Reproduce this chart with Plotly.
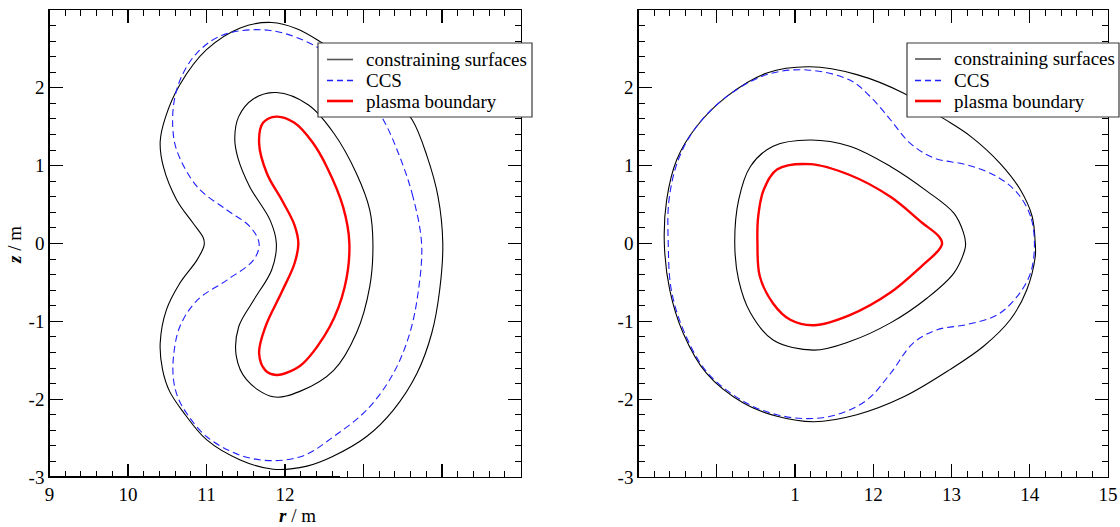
import plotly.graph_objects as go

# ---------------- data (r, z in metres) ----------------
# Left panel
L_outer_r = [14.01, 13.95, 13.81, 13.62, 13.35, 12.95, 12.47, 12.15, 11.83, 11.43, 11.00, 10.66, 10.48, 10.41, 10.45, 10.62, 10.83, 10.96, 10.97,
             10.88, 10.66, 10.49, 10.41, 10.44, 10.53, 10.70, 11.00, 11.43, 11.85, 12.28, 12.60, 13.04, 13.38, 13.68, 13.87, 13.97, 14.01]
L_outer_z = [0.00, 0.60, 1.12, 1.59, 1.90, 2.25, 2.58, 2.76, 2.84, 2.77, 2.49, 2.04, 1.63, 1.31, 0.99, 0.56, 0.26, 0.07, -0.02,
             -0.21, -0.51, -0.85, -1.28, -1.62, -1.90, -2.16, -2.52, -2.78, -2.90, -2.86, -2.74, -2.48, -2.14, -1.67, -1.15, -0.60, 0.00]

L_ccs_r = [13.74, 13.63, 13.46, 13.23, 12.82, 12.36, 11.79, 11.21, 10.88, 10.68, 10.59, 10.57, 10.62, 10.88, 11.26, 11.55, 11.67,
           11.60, 11.26, 10.88, 10.66, 10.58, 10.58, 10.64, 10.76, 11.00, 11.43, 11.85, 12.25, 12.62, 13.04, 13.38, 13.59, 13.70, 13.74]
L_ccs_z = [0.00, 0.60, 1.12, 1.63, 2.20, 2.55, 2.74, 2.68, 2.45, 2.14, 1.84, 1.50, 1.20, 0.73, 0.43, 0.22, 0.00,
           -0.21, -0.47, -0.73, -1.07, -1.45, -1.75, -1.99, -2.20, -2.48, -2.72, -2.79, -2.72, -2.48, -2.14, -1.67, -1.15, -0.60, 0.00]

L_inner_r = [13.12, 13.08, 12.91, 12.62, 12.30, 11.89, 11.60, 11.41, 11.36, 11.40, 11.55, 11.81, 11.89,
             11.83, 11.60, 11.41, 11.38, 11.51, 11.85, 12.19, 12.62, 12.91, 13.08, 13.12]
L_inner_z = [0.00, 0.43, 0.90, 1.42, 1.78, 1.94, 1.86, 1.63, 1.35, 1.10, 0.73, 0.30, 0.00,
             -0.34, -0.73, -1.07, -1.45, -1.75, -1.97, -1.90, -1.63, -1.15, -0.55, 0.00]

L_plasma_r = [12.82, 12.74, 12.53, 12.35, 12.12, 11.89, 11.72, 11.67, 11.77, 11.97, 12.12, 12.17,
              12.12, 11.96, 11.75, 11.67, 11.75, 11.89, 12.05, 12.23, 12.57, 12.76, 12.82]
L_plasma_z = [0.00, 0.47, 0.99, 1.30, 1.55, 1.63, 1.55, 1.29, 0.90, 0.54, 0.24, 0.00,
              -0.26, -0.62, -1.07, -1.41, -1.63, -1.69, -1.65, -1.54, -1.07, -0.56, 0.00]

# Right panel
R_outer_r = [14.07, 14.03, 13.88, 13.62, 13.24, 12.86, 12.39, 11.79, 11.19, 10.64, 10.13, 9.74, 9.49, 9.36, 9.33,
             9.40, 9.57, 9.87, 10.34, 10.77, 11.24, 11.79, 12.39, 12.98, 13.41, 13.75, 13.96, 14.07, 14.07]
R_outer_z = [0.00, 0.35, 0.69, 1.03, 1.38, 1.63, 1.93, 2.17, 2.27, 2.19, 1.89, 1.50, 1.08, 0.56, 0.00,
             -0.60, -1.15, -1.67, -2.05, -2.22, -2.29, -2.20, -1.97, -1.62, -1.32, -0.98, -0.60, -0.17, 0.00]

R_ccs_r = [14.06, 14.01, 13.84, 13.58, 13.20, 12.77, 12.47, 12.22, 11.96, 11.70, 11.15, 10.64, 10.13, 9.74, 9.51, 9.39, 9.38,
           9.42, 9.59, 9.89, 10.38, 10.77, 11.15, 11.53, 11.92, 12.22, 12.51, 12.81, 13.20, 13.58, 13.84, 14.01, 14.06]
R_ccs_z = [0.00, 0.35, 0.65, 0.86, 1.01, 1.10, 1.29, 1.59, 1.89, 2.10, 2.23, 2.17, 1.89, 1.50, 1.08, 0.56, 0.00,
           -0.60, -1.15, -1.67, -2.05, -2.20, -2.25, -2.20, -2.01, -1.67, -1.28, -1.11, -1.04, -0.92, -0.68, -0.38, 0.00]

R_inner_r = [13.18, 13.15, 13.03, 12.69, 12.22, 11.70, 11.19, 10.72, 10.43, 10.28, 10.23,
             10.28, 10.43, 10.72, 11.24, 11.70, 12.22, 12.69, 13.03, 13.17, 13.18]
R_inner_z = [0.00, 0.15, 0.39, 0.67, 0.99, 1.25, 1.33, 1.25, 0.99, 0.56, 0.00,
             -0.47, -0.89, -1.24, -1.37, -1.26, -1.02, -0.70, -0.38, -0.08, 0.00]

R_plasma_r = [12.88, 12.84, 12.62, 12.22, 11.70, 11.19, 10.77, 10.60, 10.53, 10.52,
              10.55, 10.72, 10.94, 11.24, 11.70, 12.22, 12.62, 12.84, 12.88]
R_plasma_z = [0.00, 0.09, 0.27, 0.60, 0.88, 1.02, 0.95, 0.69, 0.35, 0.00,
              -0.42, -0.77, -0.98, -1.05, -0.92, -0.63, -0.29, -0.08, 0.00]

x_tickvals = [9, 10, 11, 12, 13, 14, 15]
left_x_ticktext = ["9", "10", "11", "12", "", "", ""]
right_x_ticktext = ["", "", "1", "12", "13", "14", "15"]
y_tickvals = [-3, -2, -1, 0, 1, 2, 3]
y_ticktext = ["-3", "-2", "-1", "0", "1", "2", "3"]

names = ["constraining surfaces", "CCS", "plasma boundary"]

# ---------------- figure ----------------
FONT = "Liberation Serif"
W, H = 1120, 527
fig = go.Figure()

black = dict(color="black", width=1.1, smoothing=1.0)
blue = dict(color="#1f1fff", width=1.1, dash="7px,4px", smoothing=1.0)
red = dict(color="#ff0000", width=2.4, smoothing=1.0)

def add_panel(xa, ya, outer, ccs, inner, plasma):
    for (rr, zz), st, nm in [(outer, black, names[0]), (inner, black, names[0]),
                             (ccs, blue, names[1]), (plasma, red, names[2])]:
        fig.add_trace(go.Scatter(x=rr, y=zz, mode="lines", line=st, line_shape="spline",
                                 name=nm, xaxis=xa, yaxis=ya, showlegend=False, hoverinfo="skip"))

add_panel("x", "y", (L_outer_r, L_outer_z), (L_ccs_r, L_ccs_z),
          (L_inner_r, L_inner_z), (L_plasma_r, L_plasma_z))
add_panel("x2", "y2", (R_outer_r, R_outer_z), (R_ccs_r, R_ccs_z),
          (R_inner_r, R_inner_z), (R_plasma_r, R_plasma_z))

tickfont = dict(family=FONT, size=19, color="black")
ax_common = dict(showgrid=False, zeroline=False, showline=True, linecolor="black", linewidth=1.3,
                 mirror="ticks", ticks="inside", ticklen=13, tickwidth=1.2, tickcolor="black",
                 minor=dict(dtick=0.2, ticks="inside", ticklen=6, tickwidth=1, tickcolor="black"),
                 tickfont=tickfont, fixedrange=True, automargin=False)

def px(x):
    return x / W

def py(y):
    return 1 - y / H

shapes = []
annotations = []

# hand-built legends (box, sample lines, labels)
def legend_box(x0, x1, y0, y1, lx0, lx1, rows, tx):
    shapes.append(dict(type="rect", xref="paper", yref="paper", x0=px(x0), x1=px(x1), y0=py(y1), y1=py(y0),
                       fillcolor="white", line=dict(color="#3a3a3a", width=1.2), layer="above"))
    samples = [dict(color="#555555", width=1.6), dict(color="#1f1fff", width=1.4, dash="6px,4px"),
               dict(color="#ff0000", width=2.6)]
    for ry, smp, nm in zip(rows, samples, names):
        shapes.append(dict(type="line", xref="paper", yref="paper", x0=px(lx0), x1=px(lx1), y0=py(ry), y1=py(ry),
                           line=smp, layer="above"))
        annotations.append(dict(text=nm, x=px(tx), y=py(ry), xref="paper", yref="paper", xanchor="left",
                                yanchor="middle", showarrow=False,
                                font=dict(family=FONT, size=19, color="black")))

legend_box(318, 532, 43, 117, 327, 353, [59.5, 80.5, 101], 364)
legend_box(907, 1119, 43, 117, 915, 941, [59, 80.5, 101], 952)

# slightly heavier stretch of the left bottom axis line, as in the original
shapes.append(dict(type="line", xref="x", yref="y", x0=9, x1=12.7, y0=-3, y1=-3,
                   line=dict(color="black", width=1.8), layer="above"))

annotations += [
    dict(text="<b><i>r</i></b> / m", x=px(297), y=py(515), xref="paper", yref="paper",
         xanchor="center", yanchor="middle",
         showarrow=False, font=dict(family=FONT, size=19, color="black")),
    dict(text="<b><i>z</i></b> / m", x=px(15), y=py(245), xref="paper", yref="paper",
         xanchor="center", yanchor="middle",
         showarrow=False, textangle=-90, font=dict(family=FONT, size=19, color="black")),
]

yd = [1 - 477 / H, 1 - 10 / H]
fig.update_layout(
    width=W, height=H, margin=dict(l=0, r=0, t=0, b=0, autoexpand=False),
    paper_bgcolor="white", plot_bgcolor="white", showlegend=False,
    xaxis=dict(domain=[49.5 / W, 520.5 / W], range=[9, 15], tickvals=x_tickvals, ticktext=left_x_ticktext,
               anchor="y", **ax_common),
    yaxis=dict(domain=yd, range=[-3, 3], tickvals=y_tickvals, ticktext=y_ticktext, anchor="x", **ax_common),
    xaxis2=dict(domain=[638.5 / W, 1108 / W], range=[9, 15], tickvals=x_tickvals, ticktext=right_x_ticktext,
                anchor="y2", **ax_common),
    yaxis2=dict(domain=yd, range=[-3, 3], tickvals=y_tickvals, ticktext=y_ticktext, anchor="x2", **ax_common),
    shapes=shapes,
    annotations=annotations,
)

fig.write_html("out.html", config={"displayModeBar": False, "staticPlot": True},
               post_script="document.body.style.margin='0px';document.body.style.overflow='hidden';")
